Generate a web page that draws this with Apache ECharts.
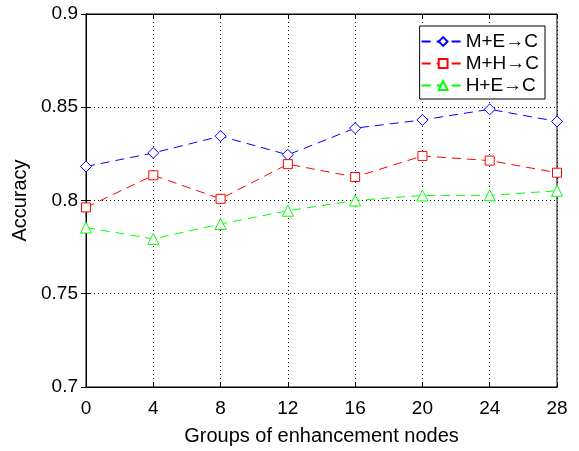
<!DOCTYPE html>
<html>
<head>
<meta charset="utf-8">
<script src="https://cdn.jsdelivr.net/npm/echarts@6/dist/echarts.min.js"></script>
<style>
html,body{margin:0;padding:0;background:#fff;}
#chart{width:579px;height:451px;}
</style>
</head>
<body>
<div id="chart"></div>
<script>
// Number of enhancement-node groups on the x axis
const groups = [0, 4, 8, 12, 16, 20, 24, 28];
// Accuracy for each modality combination
const accMEC = [0.8182, 0.8255, 0.8345, 0.8245, 0.8388, 0.8432, 0.8489, 0.8424];
const accMHC = [0.7963, 0.8135, 0.8009, 0.8195, 0.8126, 0.8239, 0.8214, 0.8149];
const accHEC = [0.7855, 0.7794, 0.7874, 0.7945, 0.8000, 0.8027, 0.8028, 0.8052];
const seriesNames = ['M+E\u2192C', 'M+H\u2192C', 'H+E\u2192C'];
const yTicks = [0.7, 0.75, 0.8, 0.85, 0.9];

const font = 'Liberation Sans, Arial, Helvetica, sans-serif';
const chart = echarts.init(document.getElementById('chart'), null, {renderer: 'canvas'});

const pair = (ys) => groups.map((x, i) => [x, ys[i]]);
const gridLine = {show: true, lineStyle: {color: '#000', type: [1, 3], width: 1}};

function lineSeries(name, ys, color, symbol, size) {
  return {
    name, type: 'line', data: pair(ys),
    symbol, symbolSize: size,
    itemStyle: {color: '#fff', borderColor: color, borderWidth: 1},
    lineStyle: {color, width: 1, type: [9, 6]},
    emphasis: {disabled: true},
    animation: false
  };
}

chart.setOption({
  animation: false,
  grid: {left: 86, right: 22, top: 14, bottom: 61, show: true, borderColor: '#000', borderWidth: 1, backgroundColor: 'transparent'},
  legend: {
    orient: 'vertical', right: 34, top: 26,
    data: seriesNames,
    backgroundColor: '#fff', borderColor: '#000', borderWidth: 1,
    padding: [6, 6, 4, 1], itemGap: 3, itemWidth: 43, itemHeight: 11,
    textStyle: {fontFamily: font, fontSize: 19, color: '#000', padding: [0, 0, 0, -4]}
  },
  xAxis: [{
    type: 'value', min: 0, max: 28, interval: 4,
    name: 'Groups of enhancement nodes', nameLocation: 'middle', nameGap: 39,
    nameTextStyle: {fontFamily: font, fontSize: 20, color: '#000'},
    axisLine: {show: true, onZero: false, lineStyle: {color: '#000'}},
    axisTick: {show: true, inside: true, length: 5, lineStyle: {color: '#000'}},
    axisLabel: {fontFamily: font, fontSize: 19, color: '#000', margin: 12},
    splitLine: gridLine
  }, {
    type: 'value', min: 0, max: 28, interval: 4, position: 'top',
    axisLine: {show: true, lineStyle: {color: '#000'}},
    axisTick: {show: true, inside: true, length: 5, lineStyle: {color: '#000'}},
    axisLabel: {show: false}, splitLine: {show: false}
  }],
  yAxis: [{
    type: 'value', min: 0.7, max: 0.9, interval: 0.05,
    name: 'Accuracy', nameLocation: 'middle', nameGap: 49,
    nameTextStyle: {fontFamily: font, fontSize: 20, color: '#000'},
    axisLine: {show: true, onZero: false, lineStyle: {color: '#000'}},
    axisTick: {show: true, inside: true, length: 5, lineStyle: {color: '#000'}},
    axisLabel: {fontFamily: font, fontSize: 19, color: '#000', margin: 8,
      formatter: (v) => yTicks.find(t => Math.abs(t - v) < 1e-9) !== undefined ? String(+v.toFixed(2)) : ''},
    splitLine: gridLine
  }, {
    type: 'value', min: 0.7, max: 0.9, interval: 0.05, position: 'right',
    axisLine: {show: true, lineStyle: {color: '#000'}},
    axisTick: {show: true, inside: true, length: 5, lineStyle: {color: '#000'}},
    axisLabel: {show: false}, splitLine: {show: false}
  }],
  series: [
    lineSeries(seriesNames[0], accMEC, '#0000ff', 'diamond', 11),
    lineSeries(seriesNames[1], accMHC, '#ff0000', 'rect', 9),
    lineSeries(seriesNames[2], accHEC, '#00ff00', 'triangle', 11)
  ]
});
</script>
</body>
</html>
